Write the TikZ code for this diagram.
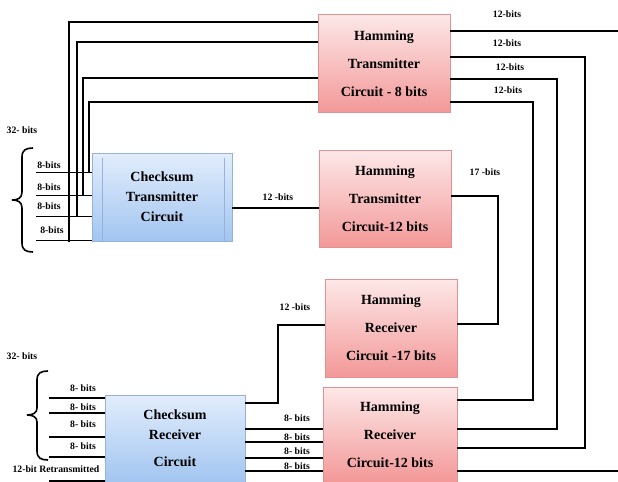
\documentclass[tikz,border=0pt]{standalone}
\usepackage{fontspec}
\setmainfont{Liberation Serif}
\definecolor{hamtop}{RGB}{253,232,232}
\definecolor{hambot}{RGB}{243,152,152}
\definecolor{hamedge}{RGB}{225,145,145}
\definecolor{chktop}{RGB}{226,237,252}
\definecolor{chkbot}{RGB}{162,197,240}
\definecolor{chkedge}{RGB}{150,178,218}
\tikzset{
  hambox/.style={draw=hamedge, top color=hamtop, bottom color=hambot, minimum width=99pt, minimum height=73.5pt, align=center, font=\fontsize{10.5}{21}\selectfont\bfseries, inner sep=0pt},
  chkbox/.style={draw=chkedge, top color=chktop, bottom color=chkbot, minimum width=105pt, minimum height=66pt, align=center, font=\fontsize{10.5}{15}\selectfont\bfseries, inner sep=0pt},
  bits/.style={font=\fontsize{7.3}{8}\selectfont\bfseries, inner sep=0.75pt},
  wire/.style={line width=1.1pt},
  thinwire/.style={line width=0.6pt},
  brace/.style={line width=1.2pt}
}
\begin{document}
\begin{tikzpicture}[x=0.75pt,y=0.75pt,yscale=-1,xscale=1]
\useasboundingbox (0,0) rectangle (618,482);

%Shape: Rectangle
\node [hambox] (ht8) at (384,63.5) {Hamming\\Transmitter\\Circuit - 8 bits};
%Shape: Rectangle
\node [hambox, minimum height=72.75pt] (ht12) at (385,198.5) {Hamming\\Transmitter\\Circuit-12 bits};
%Shape: Rectangle
\node [hambox] (hr17) at (391,328) {Hamming\\Receiver\\Circuit -17 bits};
%Shape: Rectangle
\node [hambox, minimum width=100.5pt, minimum height=71.25pt] (hr12) at (390,434.5) {Hamming\\Receiver\\Circuit-12 bits};
%Shape: Rectangle
\node [chkbox] (ct) at (162,197) {Checksum\\Transmitter\\Circuit};
\draw [chkedge, line width=0.6pt] (102,158) -- (102,241) ;
\draw [chkedge, line width=0.6pt] (224,158) -- (224,241) ;
%Shape: Rectangle
\node [chkbox, minimum height=65.25pt] (cr) at (175,438.5) {Checksum\\Receiver\\[5pt]Circuit};

%Straight Lines - transmitter inputs
\coordinate (in1) at (36,172);
\coordinate (in2) at (36,195);
\coordinate (in3) at (36,216);
\coordinate (in4) at (36,240);
\draw [thinwire] (in1) -- (in1 -| ct.west) ;
\draw [thinwire] (in2) -- (in2 -| ct.west) ;
\draw [thinwire] (in3) -- (in3 -| ct.west) ;
\draw [thinwire] (in4) -- (in4 -| ct.west) ;
%Straight Lines - taps to hamming 8
\coordinate (t1) at (89,172);
\coordinate (t2) at (83,195);
\coordinate (t3) at (77,216);
\coordinate (t4) at (69,242);
\draw [wire] (t1) |- (ht8.west |- 0,102) ;
\draw [wire] (t2) |- (ht8.west |- 0,78) ;
\draw [wire] (t3) |- (ht8.west |- 0,42) ;
\draw [wire] (t4) |- (ht8.west |- 0,22) ;
%Straight Lines
\draw [wire] (ct.east |- 0,208) -- (ht12.west |- 0,208) ;
%Straight Lines - hamming 8 outputs
\coordinate (o1) at (618,31);
\draw [wire] (ht8.east |- o1) -- (o1) ;
\draw [wire] (ht8.east |- 0,57) -- (585,57) -- (585,448) -- (hr12.east |- 0,448) ;
\draw [wire] (ht8.east |- 0,79) -- (557,79) -- (557,429) -- (hr12.east |- 0,429) ;
\draw [wire] (ht8.east |- 0,102) -- (533,102) -- (533,400) -- (hr12.east |- 0,400) ;
%Straight Lines
\draw [wire] (ht12.east |- 0,196) -- (498,196) -- (498,324) -- (hr17.east |- 0,324) ;
\draw [wire] (hr17.west |- 0,325) -- (278,325) -- (278,403) -- (cr.east |- 0,403) ;
%Straight Lines - checksum receiver to hamming 12
\draw [wire] (cr.east |- 0,429) -- (hr12.west |- 0,429) ;
\draw [wire] (cr.east |- 0,442) -- (hr12.west |- 0,442) ;
\draw [wire] (cr.east |- 0,458) -- (hr12.west |- 0,458) ;
\draw [wire] (cr.east |- 0,471) -- (hr12.west |- 0,471) ;
\coordinate (o2) at (618,471);
\draw [wire] (hr12.east |- o2) -- (o2) ;
%Straight Lines - receiver inputs
\coordinate (r1) at (49,398);
\coordinate (r2) at (49,413);
\coordinate (r3) at (49,437);
\coordinate (r4) at (49,457);
\coordinate (r5) at (49,481);
\draw [wire] (r1) -- (r1 -| cr.west) ;
\draw [wire] (r2) -- (r2 -| cr.west) ;
\draw [wire] (r3) -- (r3 -| cr.west) ;
\draw [wire] (r4) -- (r4 -| cr.west) ;
\draw [wire] (r5) -- (r5 -| cr.west) ;

%Shape: Brace
\draw [brace] (33,148) .. controls (26,148) and (22,150) .. (22,157) -- (22,192) .. controls (22,198) and (18,200) .. (12,200) .. controls (18,200) and (22,202) .. (22,208) -- (22,243) .. controls (22,250) and (26,252) .. (33,252) ;
%Shape: Brace
\draw [brace] (48,371) .. controls (41,371) and (37,373) .. (37,380) -- (37,408) .. controls (37,413) and (33,415) .. (27,415) .. controls (33,415) and (37,417) .. (37,422) -- (37,451) .. controls (37,458) and (41,460) .. (48,460) ;

% Text Node
\node [bits] (l32a) at (22,130) {32- bits};
\node [bits] (l8a) at (49,165) {8-bits};
\node [bits] (l8b) at (49,187) {8-bits};
\node [bits] (l8c) at (49,206) {8-bits};
\node [bits] (l8d) at (52,230) {8-bits};
% Text Node
\node [bits] (l12c) at (278,197) {12 -bits};
\node [bits] (l12a) at (507,14) {12-bits};
\node [bits] (l12b) at (507,43) {12-bits};
\node [bits] (l12d) at (510,67) {12-bits};
\node [bits] (l12e) at (508,90) {12-bits};
\node [bits] (l17) at (485,172) {17 -bits};
\node [bits] (l12r) at (295,307) {12 -bits};
% Text Node
\node [bits] (l32b) at (22,356) {32- bits};
\node [bits] (lr8a) at (83,388) {8- bits};
\node [bits] (lr8b) at (83,407) {8- bits};
\node [bits] (lr8c) at (83,424) {8- bits};
\node [bits] (lr8d) at (83,446) {8- bits};
\node [bits] (lret) at (56,469) {12-bit Retransmitted};
% Text Node
\node [bits] (lo8a) at (297,418) {8- bits};
\node [bits] (lo8b) at (297,437) {8- bits};
\node [bits] (lo8c) at (297,451) {8- bits};
\node [bits] (lo8d) at (297,466) {8- bits};

\end{tikzpicture}
\end{document}
